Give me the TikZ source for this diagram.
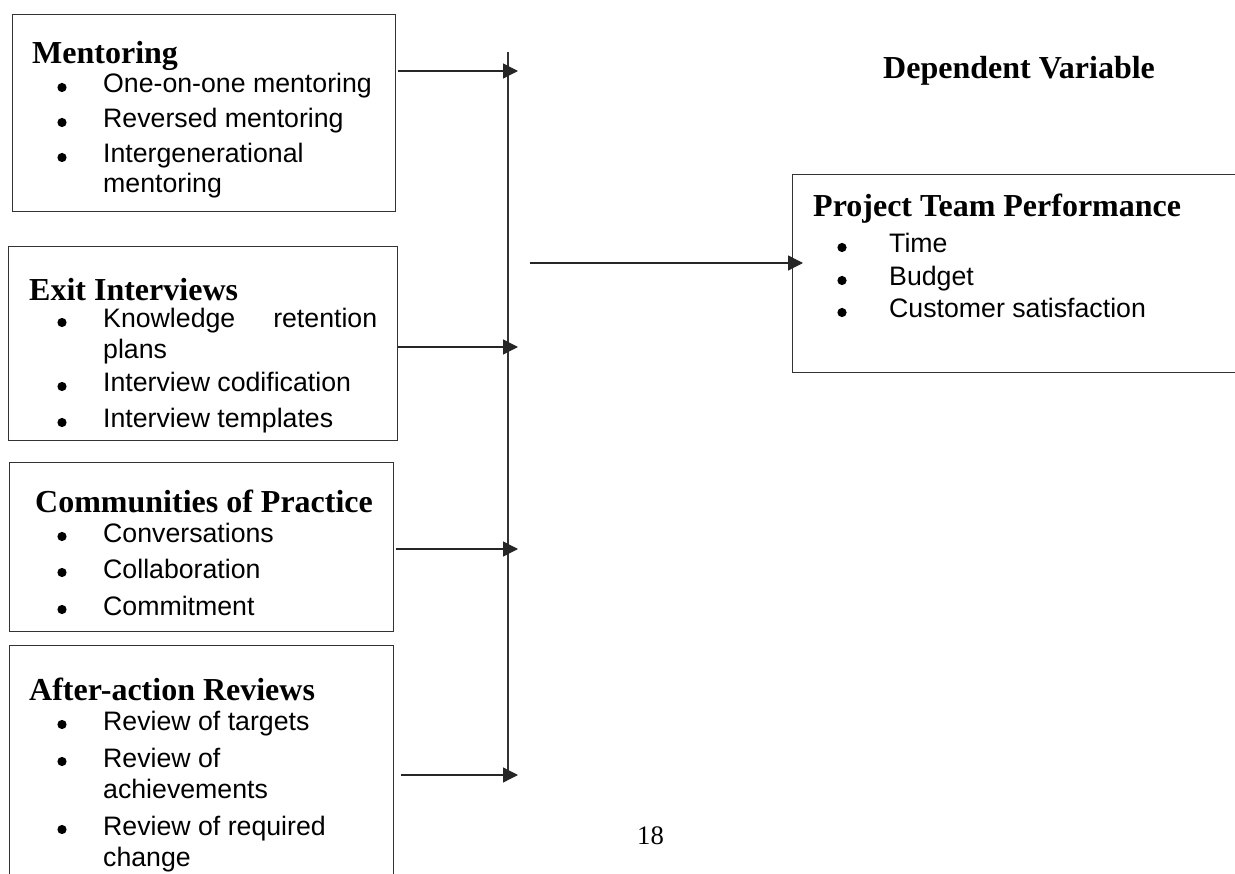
\documentclass[tikz,border=0pt]{standalone}
\usepackage{fontspec}
\setmainfont{Liberation Serif}
\newfontfamily\sansfont{Liberation Sans}
\usetikzlibrary{arrows.meta}

\begin{document}
\begin{tikzpicture}[
        x=1pt, y=-1pt,
        box/.style={draw=black!80, line width=1.3pt, rectangle, anchor=north west, inner sep=0pt},
        head/.style={anchor=base west, inner sep=0pt, font=\fontsize{32}{38}\selectfont\bfseries},
        item/.style={anchor=base west, inner sep=0pt, font=\fontsize{26.7}{31}\selectfont\sansfont},
        bus/.style={draw=black!80, line width=1.3pt},
        arr/.style={draw=black!85, line width=1.3pt, -{Triangle[length=15pt, width=15pt]}},
    ]
        \clip (0,0) rectangle (1235,874);
        % boxes
        \node[box, minimum width=383pt, minimum height=197pt] (ment) at (12,14) {};
        \node[box, minimum width=389pt, minimum height=194pt] (exit) at (8,246) {};
        \node[box, minimum width=384pt, minimum height=169pt] (comm) at (9,462) {};
        \node[box, minimum width=384pt, minimum height=260pt] (aar) at (9,645) {};
        \node[box, minimum width=470pt, minimum height=198pt] (ptp) at (792,174) {};
        % mentoring
        \node[head] (ment-h) at (32,64) {Mentoring};
        \node[item] (ment-1) at (103,93) {One-on-one mentoring};
        \node[item] (ment-2) at (103,128) {Reversed mentoring};
        \node[item] (ment-3) at (103,163) {Intergenerational};
        \node[item] (ment-3b) at (103,193) {mentoring};
        % exit interviews
        \node[head] (exit-h) at (29,301) {Exit Interviews};
        \node[item] (exit-1) at (103,328) {\makebox[274pt][s]{Knowledge retention}};
        \node[item] (exit-1b) at (103,359) {plans};
        \node[item] (exit-2) at (103,392) {Interview codification};
        \begin{scope}
            \clip (0,246) rectangle (397,433);
            \node[item] (exit-3) at (103,428) {Interview templates};
        \end{scope}
        % communities of practice
        \node[head] (comm-h) at (35,513) {Communities of Practice};
        \node[item] (comm-1) at (103,542) {Conversations};
        \node[item] (comm-2) at (103,578) {Collaboration};
        \node[item] (comm-3) at (103,615) {Commitment};
        % after-action reviews
        \node[head] (aar-h) at (29,700) {After-action Reviews};
        \node[item] (aar-1) at (103,730) {Review of targets};
        \node[item] (aar-2) at (103,767) {Review of};
        \node[item] (aar-2b) at (103,798) {achievements};
        \node[item] (aar-3) at (103,835) {Review of required};
        \node[item] (aar-3b) at (103,866) {change};
        % dependent variable
        \node[head] (dep) at (883,79) {Dependent Variable};
        \node[head] (ptp-h) at (813,217) {Project Team Performance};
        \node[item] (ptp-1) at (889,253) {Time};
        \node[item] (ptp-2) at (889,286) {Budget};
        \node[item] (ptp-3) at (889,318) {Customer satisfaction};
        % bullets
        \foreach \n in {ment-1, ment-2, ment-3, exit-1, exit-2, exit-3, comm-1, comm-2, comm-3, aar-1, aar-2, aar-3}
            \fill ([xshift=-41pt, yshift=5.5pt]\n.base west) circle (4.6pt);
        \foreach \n in {ptp-1, ptp-2, ptp-3}
            \fill ([xshift=-47pt, yshift=5.5pt]\n.base west) circle (4.6pt);
        % page number
        \node[anchor=base west, inner sep=0pt, font=\fontsize{26.7}{31}\selectfont] (page) at (637,844) {18};
        % connectors
        \coordinate (bus-top) at (508,52);
        \coordinate (bus-bot) at (508,777);
        \coordinate (bus-m) at (518,71);
        \coordinate (bus-e) at (518,347);
        \coordinate (bus-c) at (518,549);
        \coordinate (bus-a) at (518,775);
        \coordinate (out) at (530,263);
        \draw[bus] (bus-top) -- (bus-bot);
        \draw[arr] ([xshift=2pt]ment.east |- bus-m) -- (bus-m);
        \draw[arr] (exit.east |- bus-e) -- (bus-e);
        \draw[arr] ([xshift=2pt]comm.east |- bus-c) -- (bus-c);
        \draw[arr] ([xshift=7pt]aar.east |- bus-a) -- (bus-a);
        \draw[arr] (out) -- ([xshift=11pt]ptp.west |- out);
    \end{tikzpicture}
\end{document}
